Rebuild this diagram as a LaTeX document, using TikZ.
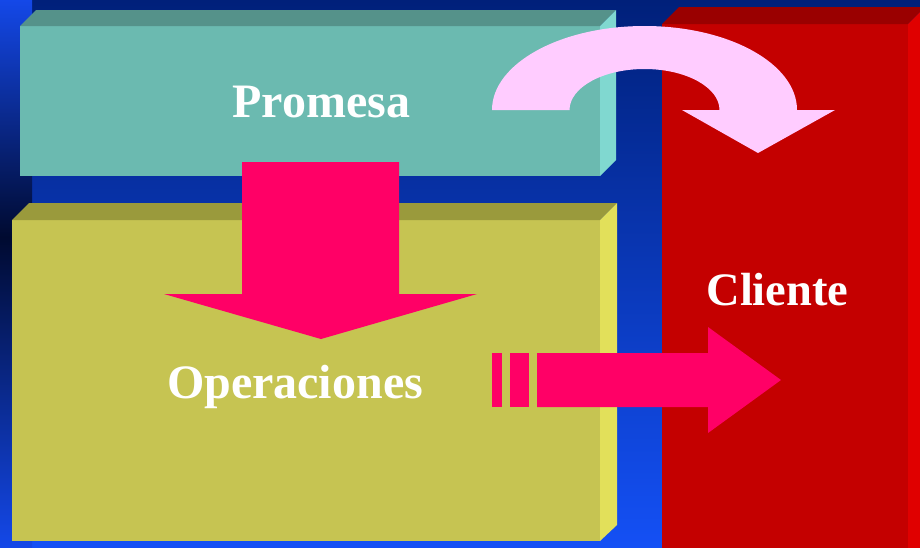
\documentclass[tikz,border=0pt]{standalone}
\usepackage{fontspec}
\setmainfont{Liberation Serif}
\definecolor{bgtop}{HTML}{00207A}
\definecolor{bgbot}{HTML}{1450F5}
\definecolor{stripbright}{HTML}{1448E8}
\definecolor{stripdark}{HTML}{000A30}
\definecolor{tealfront}{HTML}{6BBAB0}
\definecolor{tealtop}{HTML}{55928A}
\definecolor{tealside}{HTML}{80D8D0}
\definecolor{yelfront}{HTML}{C6C452}
\definecolor{yeltop}{HTML}{9A9A3C}
\definecolor{yelside}{HTML}{E2E05A}
\definecolor{redfront}{HTML}{C40000}
\definecolor{redtop}{HTML}{9A0000}
\definecolor{redside}{HTML}{E00000}
\definecolor{pinklight}{HTML}{FFCCFF}
\definecolor{hotpink}{HTML}{FF0066}
\begin{document}
\begin{tikzpicture}[x=1pt,y=1pt,
  label/.style={text=white,font=\bfseries\fontsize{46}{50}\selectfont,inner sep=0pt,anchor=base},
]
\useasboundingbox (0,0) rectangle (920,-547);
\clip (0,0) rectangle (920,-547);
% background
\shade[top color=bgtop,bottom color=bgbot] (0,0) rectangle (920,-547);
\shade[top color=stripbright,bottom color=stripdark] (0,0) rectangle (32,-237);
\shade[top color=stripdark,bottom color=stripbright] (0,-237) rectangle (32,-547);
% red box (Cliente)
\fill[redfront] (662,-24) rectangle (908,-560);
\fill[redtop] (662,-24) -- (679,-7) -- (925,-7) -- (908,-24) -- cycle;
\fill[redside] (908,-24) -- (925,-7) -- (925,-543) -- (908,-560) -- cycle;
% teal box (Promesa)
\fill[tealfront] (20,-26) rectangle (600,-176);
\fill[tealtop] (20,-26) -- (36,-10) -- (616,-10) -- (600,-26) -- cycle;
\fill[tealside] (600,-26) -- (616,-10) -- (616,-160) -- (600,-176) -- cycle;
% yellow box (Operaciones)
\fill[yelfront] (12,-220) rectangle (600,-541);
\fill[yeltop] (12,-220) -- (29,-203) -- (617,-203) -- (600,-220) -- cycle;
\fill[yelside] (600,-220) -- (617,-203) -- (617,-525) -- (600,-541) -- cycle;
% curved arrow
\fill[pinklight] (492,-110) arc[start angle=180,end angle=0,x radius=152.5,y radius=84]
  -- (835,-110) -- (758,-153) -- (682,-110) -- (719.5,-110)
  arc[start angle=0,end angle=180,x radius=75,y radius=41] -- cycle;
% down arrow
\fill[hotpink] (242,-162) -- (399,-162) -- (399,-294) -- (477,-294) -- (321,-339)
  -- (164,-294) -- (242,-294) -- cycle;
% right arrow
\fill[hotpink] (492,-353) rectangle (502,-407);
\fill[hotpink] (510,-353) rectangle (529,-407);
\fill[hotpink] (537,-353) -- (708,-353) -- (708,-327) -- (781,-380) -- (708,-433)
  -- (708,-407) -- (537,-407) -- cycle;
% labels
\node[label,font=\bfseries\fontsize{48}{50}\selectfont] (promesa) at (321.5,-117) {Promesa};
\node[label,font=\bfseries\fontsize{46.5}{50}\selectfont] (cliente) at (777.5,-305) {Cliente};
\node[label,font=\bfseries\fontsize{48}{50}\selectfont] (operaciones) at (295,-398) {Operaciones};
\end{tikzpicture}
\end{document}
